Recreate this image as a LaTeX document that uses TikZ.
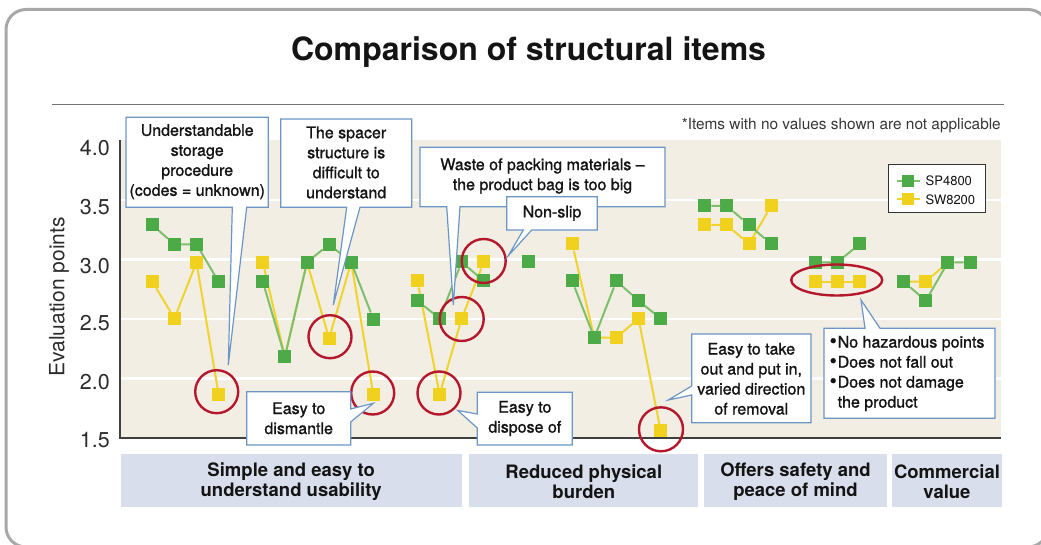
\documentclass[tikz,border=0pt]{standalone}
\usepackage{fontspec}
\setmainfont{TeX Gyre Heros}
\newfontfamily\medfont{TeX Gyre Heros}[FakeBold=1.2]
\definecolor{gsq}{HTML}{4DAB47}
\definecolor{gln}{HTML}{7DBF6B}
\definecolor{ysq}{HTML}{F0D21E}
\definecolor{yln}{HTML}{F0D32C}
\definecolor{redc}{HTML}{B5182D}
\definecolor{calb}{HTML}{6B96C6}
\definecolor{beige}{HTML}{F2EEE3}
\definecolor{catf}{HTML}{D8DEEB}
\definecolor{framec}{HTML}{A8A8A8}
\definecolor{txt}{HTML}{141414}
\tikzset{
  gsqr/.style={fill=gsq, shape=rectangle, minimum size=13pt, inner sep=0pt, outer sep=0pt},
  ysqr/.style={fill=ysq, shape=rectangle, minimum size=13pt, inner sep=0pt, outer sep=0pt},
  gline/.style={draw=gln, line width=2pt},
  yline/.style={draw=yln, line width=2pt},
  ring/.style={draw=redc, line width=2.4pt},
  callout/.style={fill=white, draw=calb, line width=1.2pt, line join=miter},
  ctext/.style={font=\medfont\fontsize{16}{20}\selectfont, align=center, text=txt, inner sep=0pt},
  catbox/.style={fill=catf, draw=none},
  cattext/.style={font=\bfseries\fontsize{18.5}{20.5}\selectfont, align=center, text=txt, inner sep=0pt},
  ylab/.style={font=\fontsize{21.5}{24}\selectfont, text=txt!90, anchor=east, inner sep=0pt},
}
\begin{document}
\begin{tikzpicture}[x=1pt,y=-1pt]
\useasboundingbox (0,0) rectangle (1041,545);
\begin{scope}
\clip (0,0) rectangle (1041,545);
\draw[framec, line width=3pt, rounded corners=20pt] (6,9.5) rectangle (1048,547);
\end{scope}
% title
\node[font=\bfseries\fontsize{32}{36}\selectfont, text=txt] (title) at (528.5,52) {Comparison of structural items};
\draw[gray!110, line width=1.5pt] (52,104.3) -- (1004,104.3);
\node[font=\fontsize{15.4}{18}\selectfont, text=txt!85, anchor=east, inner sep=0pt] (note) at (1001,126) {*Items with no values shown are not applicable};
% plot area
\fill[beige] (120,140.5) rectangle (1001,438);
\foreach \yy in {200,259.5,319,378.5} \draw[white, line width=2.5pt] (120,\yy) -- (1001,\yy);
\draw[black!75, line width=1.2pt] (120,140.5) -- (120,438) -- (1001,438);
\node[ylab] (l40) at (110,148) {4.0};
\node[ylab] (l35) at (110,207) {3.5};
\node[ylab] (l30) at (110,266.5) {3.0};
\node[ylab] (l25) at (110,323.5) {2.5};
\node[ylab] (l20) at (110,382) {2.0};
\node[ylab] (l15) at (110,440.5) {1.5};
\node[font=\fontsize{21}{24}\selectfont, text=txt!90, rotate=90, inner sep=0pt] (ylabel) at (59,297) {Evaluation points};
% yellow series
\foreach \i/\v in {0/281.7,1/318.3,2/262.3,3/394.3,5/262.3,6/356.7,7/262.3,8/338.3,9/262.3,10/394.3,12/281,13/394.3,14/318.5,15/262,19/244,20/337.7,21/337.7,22/318.5,23/430.7,25/225,26/225,27/244,28/206,30/281.7,31/281.7,32/281.7,34/281.7,35/281.7,36/262.3}
  \node[ysqr] (y\i) at ({152.3+22.1*\i},\v) {};
\draw[yline] (y0) -- (y1) -- (y2) -- (y3);
\draw[yline] (y5) -- (y6.center) -- (y7.center) -- (y8) -- (y9.center) -- (y10);
\draw[yline] (y12) -- (y13) -- (y14) -- (y15);
\draw[yline] (y19) -- (y20.center) -- (y21) -- (y22) -- (y23);
\draw[yline] (y25) -- (y26) -- (y27) -- (y28);
\draw[yline] (y30) -- (y31) -- (y32);
\draw[yline] (y34.center) -- (y35) -- (y36.center);
\foreach \i in {0,1,2,3,8,10,12,13,14,15,19,21,22,23,25,26,27,28,30,31,32,35}
  \node[ysqr] at (y\i) {};
% green series
\foreach \i/\v in {0/225,1/244.3,2/244.3,3/281.7,5/281.7,6/356.7,7/262.3,8/244.3,9/262.3,10/319,12/300.7,13/318.5,14/262,15/281,17/262,19/281,20/337.7,21/281,22/300.7,23/318.5,25/206,26/206,27/225,28/244,30/262.3,31/262.3,32/244,34/281.7,35/300.7,36/262.3,37/262.3}
  \node[gsqr] (g\i) at ({152.3+22.1*\i},\v) {};
\draw[gline] (g0) -- (g1) -- (g2) -- (g3);
\draw[gline] (g5) -- (g6) -- (g7) -- (g8) -- (g9) -- (g10);
\draw[gline] (g12) -- (g13) -- (g14) -- (g15);
\draw[gline] (g19) -- (g20) -- (g21) -- (g22) -- (g23);
\draw[gline] (g25) -- (g26) -- (g27) -- (g28);
\draw[gline] (g30) -- (g31) -- (g32);
\draw[gline] (g34) -- (g35) -- (g36) -- (g37);
% red rings
\draw[ring] (216.7,391.7) circle[radius=21.5];
\draw[ring] (330,336.7) circle[radius=21.5];
\draw[ring] (372.7,393) circle[radius=21.5];
\draw[ring] (439,393) circle[radius=21.5];
\draw[ring] (461.7,319) circle[radius=22];
\draw[ring] (483.7,261) circle[radius=22];
\draw[ring] (661,429.3) circle[radius=22];
\draw[ring] (836.7,280) ellipse[x radius=45.5, y radius=15.5];
% legend
\draw[fill=white, draw=black!80, line width=1pt] (888.3,165) rectangle (985.7,212.3);
\draw[gline] (896.7,181) -- (920,181);
\node[gsqr, minimum size=12pt] (lg) at (908.3,181) {};
\node[font=\fontsize{13}{15}\selectfont, text=txt, anchor=west, inner sep=0pt] (lgt) at (925.5,181) {SP4800};
\draw[yline] (896.7,199.3) -- (920,199.3);
\node[ysqr, minimum size=12pt] (ly) at (908.3,199.3) {};
\node[font=\fontsize{13}{15}\selectfont, text=txt, anchor=west, inner sep=0pt] (lyt) at (925.5,199.3) {SW8200};
% callouts
\draw[callout] (126,117.3) -- (268.3,117.3) -- (268.3,207.3) -- (246.7,207.3) -- (228.3,365) -- (232.3,207.3) -- (126,207.3) -- cycle;
\node[ctext] (c1) at (197.2,161.7) {Understandable\\storage\\procedure\\(codes = unknown)};
\draw[callout] (280.7,119) -- (411.7,119) -- (411.7,207.3) -- (360,207.3) -- (333.3,305) -- (346.7,207.3) -- (280.7,207.3) -- cycle;
\node[ctext] (c2) at (346.2,162.5) {The spacer\\structure is\\difficult to\\understand};
\draw[callout] (420,147.3) -- (665,147.3) -- (665,206.7) -- (460,206.7) -- (453.3,305) -- (446.7,206.7) -- (420,206.7) -- cycle;
\node[ctext] (c3) at (542.5,176) {Waste of packing materials –\\the product bag is too big};
\draw[callout] (506.7,196.7) -- (597.3,196.7) -- (597.3,230) -- (531.7,230) -- (508.3,255.7) -- (523.3,230) -- (506.7,230) -- cycle;
\node[ctext] (c4) at (552,213.3) {Non-slip};
\draw[callout] (246.7,391.7) -- (350.7,391.7) -- (350.7,409) -- (373.3,403.3) -- (350.7,422) -- (350.7,445) -- (246.7,445) -- cycle;
\node[ctext] (c5) at (298.7,418.3) {Easy to\\dismantle};
\draw[callout] (477.3,392.3) -- (572.3,392.3) -- (572.3,445) -- (477.3,445) -- (477.3,428) -- (457.8,410.5) -- (477.3,414) -- cycle;
\node[ctext] (c6) at (524.8,418.5) {Easy to\\dispose of};
\draw[callout] (691.7,334) -- (811,334) -- (811,422.7) -- (691.7,422.7) -- (691.7,395) -- (668.3,400) -- (691.7,386) -- cycle;
\node[ctext] (c7) at (751.3,378.8) {Easy to take\\out and put in,\\varied direction\\of removal};
\draw[callout] (824,328.3) -- (865,328.3) -- (861,300) -- (880,328.3) -- (995,328.3) -- (995,418.3) -- (824,418.3) -- cycle;
\node[ctext, align=left, anchor=west] (c8) at (829.5,373.5) {{\fontsize{20}{20}\selectfont•}\hspace{1pt}No hazardous points\\{\fontsize{20}{20}\selectfont•}\hspace{1pt}Does not fall out\\{\fontsize{20}{20}\selectfont•}\hspace{1pt}Does not damage\\{\fontsize{20}{20}\selectfont\phantom{•}}\hspace{1pt}the product};
% categories
\fill[catbox] (120.7,454) rectangle (461.7,506.7);
\node[cattext] (k1) at (291.2,481.5) {Simple and easy to\\understand usability};
\fill[catbox] (469.3,454) rectangle (698.3,506.7);
\node[cattext] (k2) at (583.8,481.5) {Reduced physical\\burden};
\fill[catbox] (704.3,454) rectangle (886.7,506.7);
\node[cattext] (k3) at (795.5,481.5) {Offers safety and\\peace of mind};
\fill[catbox] (892.3,454) rectangle (1001.7,506.7);
\node[cattext] (k4) at (947,481.5) {Commercial\\value};
\end{tikzpicture}
\end{document}
